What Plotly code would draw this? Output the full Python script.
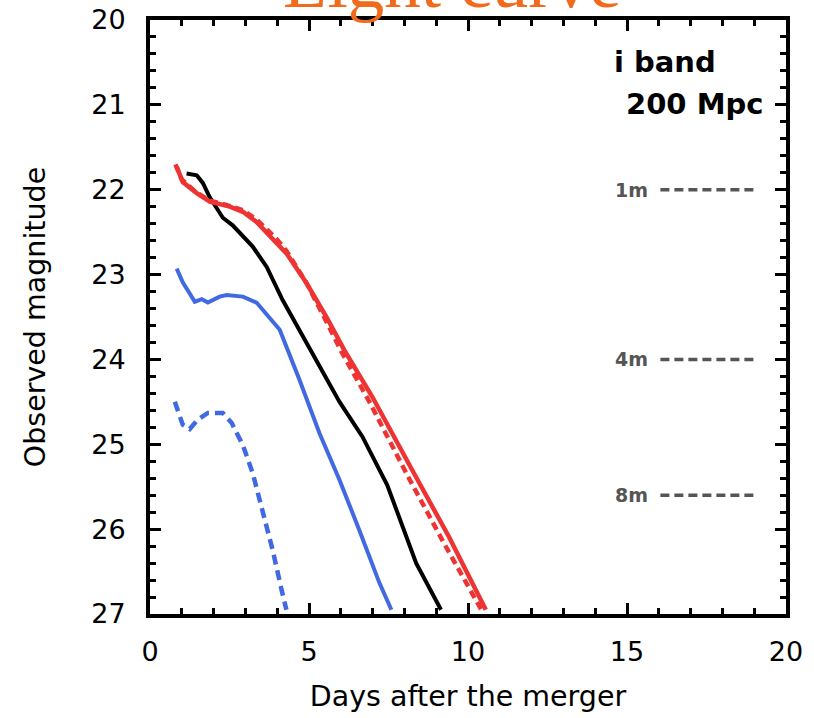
import plotly.graph_objects as go

# ---- data ----
red_solid_days = [0.84, 1.03, 1.47, 1.88, 2.51, 2.92, 3.35, 3.98, 4.29, 4.92, 5.55, 6.11, 6.99, 8.24, 9.40, 10.56]
red_solid_mag = [21.73, 21.91, 22.04, 22.14, 22.20, 22.26, 22.38, 22.62, 22.75, 23.10, 23.50, 23.89, 24.44, 25.30, 26.09, 26.95]

red_dash_days = [0.80, 1.00, 1.45, 1.88, 2.50, 2.92, 3.35, 3.98, 4.29, 4.92, 5.50, 6.05, 6.90, 8.10, 9.25, 10.45]
red_dash_mag = [21.70, 21.88, 22.03, 22.13, 22.19, 22.24, 22.35, 22.58, 22.72, 23.10, 23.52, 23.93, 24.50, 25.37, 26.17, 26.97]

black_days = [1.15, 1.47, 1.66, 1.88, 2.29, 2.60, 3.23, 3.67, 4.17, 4.70, 5.96, 6.68, 7.46, 8.37, 9.15]
black_mag = [21.81, 21.83, 21.92, 22.09, 22.33, 22.42, 22.67, 22.91, 23.30, 23.65, 24.50, 24.91, 25.48, 26.40, 26.95]

blue_solid_days = [0.84, 1.03, 1.41, 1.63, 1.82, 2.19, 2.41, 2.92, 3.35, 3.76, 4.08, 4.33, 4.70, 5.33, 5.96, 6.58, 7.21, 7.59]
blue_solid_mag = [22.93, 23.09, 23.32, 23.29, 23.33, 23.26, 23.24, 23.26, 23.33, 23.50, 23.65, 23.89, 24.24, 24.87, 25.42, 26.01, 26.63, 26.95]

blue_dash_days = [0.78, 1.03, 1.25, 1.50, 1.82, 2.29, 2.57, 2.92, 3.23, 3.54, 3.86, 4.14, 4.29]
blue_dash_mag = [24.50, 24.77, 24.82, 24.71, 24.63, 24.63, 24.75, 25.01, 25.34, 25.77, 26.25, 26.72, 26.95]

limit_labels = ["1m", "4m", "8m"]
limit_mags = [22.0, 24.0, 25.6]
limit_x = [16.05, 19.03]

x_ticks = [0, 5, 10, 15, 20]
y_ticks = [20, 21, 22, 23, 24, 25, 26, 27]

FONT = "DejaVu Sans"

fig = go.Figure()

for lab, m in zip(limit_labels, limit_mags):
    fig.add_trace(go.Scatter(x=limit_x, y=[m, m], mode="lines",
                             line=dict(color="#555555", width=3.5, dash="9px,5px"),
                             showlegend=False, hoverinfo="skip"))
    fig.add_annotation(x=limit_x[0], y=m, xref="x", yref="y", text="<b>" + lab + "</b>",
                       showarrow=False, xanchor="right", yanchor="middle", xshift=-10,
                       font=dict(family=FONT, size=19, color="#555555"))

fig.add_trace(go.Scatter(x=blue_dash_days, y=blue_dash_mag, mode="lines",
                         line=dict(color="#4169E1", width=4.5, dash="10px,6px"), showlegend=False))
fig.add_trace(go.Scatter(x=blue_solid_days, y=blue_solid_mag, mode="lines",
                         line=dict(color="#4169E1", width=4), showlegend=False))
fig.add_trace(go.Scatter(x=black_days, y=black_mag, mode="lines",
                         line=dict(color="black", width=4), showlegend=False))
fig.add_trace(go.Scatter(x=red_dash_days, y=red_dash_mag, mode="lines",
                         line=dict(color="#EE3333", width=4.5, dash="8px,5px"), showlegend=False))
fig.add_trace(go.Scatter(x=red_solid_days, y=red_solid_mag, mode="lines",
                         line=dict(color="#EE3333", width=4.5), showlegend=False))

fig.add_annotation(x=16.2, y=20.49, xref="x", yref="y", text="<b>i band</b>",
                   showarrow=False, xanchor="center", yanchor="middle",
                   font=dict(family=FONT, size=29, color="black"))
fig.add_annotation(x=17.12, y=20.99, xref="x", yref="y", text="<b>200 Mpc</b>",
                   showarrow=False, xanchor="center", yanchor="middle",
                   font=dict(family=FONT, size=29, color="black"))

fig.add_annotation(x=0.475, y=1.0, xref="paper", yref="paper", text="Light curve",
                   showarrow=False, xanchor="center", yanchor="bottom", yshift=-5,
                   font=dict(family="Liberation Serif", size=73, color="#F26A1B"))

axis_common = dict(showline=True, linewidth=4, linecolor="black", mirror="allticks",
                   ticks="inside", tickwidth=3, ticklen=11, tickcolor="black",
                   showgrid=False, zeroline=False, automargin=False,
                   tickfont=dict(family=FONT, size=27, color="black"))

fig.update_xaxes(range=[0, 20], tickvals=x_ticks, ticktext=[str(v) for v in x_ticks],
                 minor=dict(dtick=1, ticks="inside", ticklen=6, tickwidth=3, tickcolor="black"),
                 title=dict(text="Days after the merger", font=dict(family=FONT, size=28.5, color="black"), standoff=21),
                 ticklabelstandoff=11, **axis_common)
fig.update_yaxes(range=[27, 20], tickvals=y_ticks, ticktext=[str(v) for v in y_ticks],
                 minor=dict(dtick=0.2, tick0=20, ticks="inside", ticklen=6, tickwidth=3, tickcolor="black"),
                 title=dict(text="Observed magnitude", font=dict(family=FONT, size=28.5, color="black"), standoff=38),
                 ticklabelstandoff=15, **axis_common)

fig.update_layout(width=814, height=718, margin=dict(l=150, r=28, t=20, b=104),
                  plot_bgcolor="white", paper_bgcolor="white", showlegend=False)

fig.write_html("out.html")
